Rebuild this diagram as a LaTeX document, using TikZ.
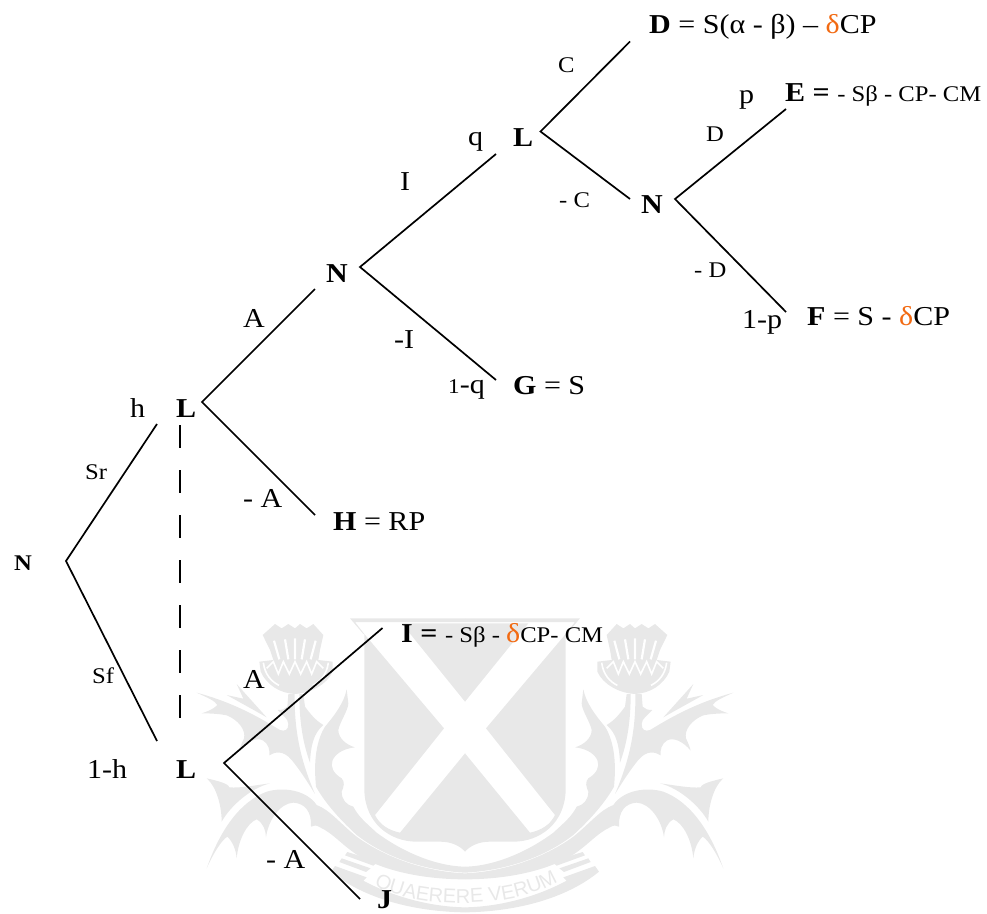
\documentclass[tikz,border=0pt]{standalone}
\usepackage{fontspec}
\setmainfont[FakeStretch=1.1]{Liberation Serif}
\newfontfamily\crestfont{Liberation Sans}
\usetikzlibrary{decorations.text}
\definecolor{crest}{HTML}{E8E8E8}
\definecolor{deltaor}{HTML}{F26A12}
\newcommand{\bigf}{\fontsize{27.3}{31}\selectfont}
\newcommand{\smf}{\fontsize{22.4}{26}\selectfont}
\newcommand{\dlt}{\textcolor{deltaor}{δ}}
\newcommand{\halfcrest}{%
  % thistle head
  \fill[crest] (440,75) -- (470,42) -- (490,55) -- (510,42) -- (525,55) -- (545,42) -- (565,55) -- (585,42) -- (622,75) -- (600,120) -- (590,150) -- (632,155) -- (628,185) .. controls (610,225) and (570,250) .. (525,252) .. controls (480,250) and (430,225) .. (412,185) -- (412,155) -- (455,150) -- (450,120) -- cycle;
  \draw[white,line width=2.2pt] (463,92) -- (478,148) (495,88) -- (505,148) (525,85) -- (525,148) (555,88) -- (545,148) (588,92) -- (572,148);
  \draw[white,line width=1.6pt] (440,175) -- (460,155) -- (475,192) -- (490,155) -- (508,192) -- (525,155) -- (542,192) -- (560,155) -- (575,192) -- (590,155) -- (610,175);
  \draw[white,line width=1.6pt] (425,158) .. controls (430,195) and (450,215) .. (472,226) (620,158) .. controls (615,195) and (595,215) .. (573,226);
  % stalk, inner strip
  \fill[crest] (500,252) -- (512,252) .. controls (512,320) and (505,390) .. (480,458) .. controls (478,410) and (470,370) .. (440,345) .. controls (465,330) and (480,310) .. (495,290) -- cycle;
  % stalk and upper leaf
  \fill[crest] (526,252) -- (545,252) -- (548,290) .. controls (555,298) and (565,300) .. (577,300) .. controls (565,315) and (545,325) .. (545,342) .. controls (545,360) and (555,365) .. (570,360) .. controls (620,330) and (700,280) .. (820,248) .. controls (790,262) and (765,272) .. (758,285) .. controls (770,298) and (790,305) .. (805,310) .. controls (775,310) and (750,312) .. (730,316) .. controls (695,330) and (672,360) .. (678,385) .. controls (685,400) and (690,412) .. (692,422) .. controls (670,395) and (640,380) .. (620,392) .. controls (605,402) and (600,420) .. (602,436) .. controls (585,425) and (560,420) .. (535,450) .. controls (510,480) and (485,520) .. (465,552) .. controls (500,470) and (528,380) .. (526,252) -- cycle;
  \fill[crest] (610,322) -- (700,222) -- (680,266) -- (730,255) -- (640,305) -- cycle;
  % small leaf above the arc
  \fill[crest] (600,520) .. controls (640,525) and (690,535) .. (722,532) .. controls (725,520) and (760,512) .. (790,505) .. controls (760,530) and (745,590) .. (745,635) .. controls (720,590) and (660,535) .. (600,520) -- cycle;
  % lower leaf and band to the ribbon
  \fill[crest] (15,790) .. controls (130,785) and (250,745) .. (340,680) .. controls (390,640) and (420,600) .. (460,585) .. controls (490,540) and (560,530) .. (610,545) .. controls (690,575) and (750,660) .. (790,775) .. controls (770,730) and (745,690) .. (728,680) .. controls (712,695) and (702,720) .. (700,745) .. controls (695,690) and (670,640) .. (640,628) .. controls (620,640) and (613,660) .. (612,682) .. controls (605,630) and (570,580) .. (530,578) .. controls (495,580) and (475,605) .. (477,650) .. controls (470,645) and (460,645) .. (450,652) .. controls (410,670) and (380,710) .. (330,740) .. controls (240,790) and (120,808) .. (15,808) -- cycle;
  % big leaf beside the shield, running into the U band
  \fill[crest] (370,238) .. controls (378,280) and (410,320) .. (435,350) .. controls (460,390) and (470,450) .. (462,530) .. controls (440,570) and (400,620) .. (340,675) .. controls (250,745) and (130,782) .. (15,788) -- (15,770) .. controls (110,768) and (210,720) .. (280,668) .. controls (310,640) and (335,620) .. (350,590) .. controls (370,585) and (385,570) .. (385,545) .. controls (378,530) and (375,515) .. (385,505) .. controls (410,490) and (420,470) .. (412,450) .. controls (400,425) and (370,415) .. (345,412) .. controls (370,405) and (395,385) .. (395,360) .. controls (390,335) and (365,300) .. (365,280) -- cycle;
  % ribbon strips
  \fill[crest] (275,755) -- (368,726) -- (375,736) -- (290,767) -- cycle;
  \fill[crest] (298,775) -- (385,745) -- (392,756) -- (312,786) -- cycle;
  \fill[crest] (310,802) -- (405,768) -- (417,785) .. controls (320,865) and (170,905) .. (15,907) -- (15,892) .. controls (130,890) and (240,855) .. (320,812) -- cycle;
  % shield half
  \fill[crest] (15,25) -- (360,25) -- (320,72) -- (317,72) -- (345,36) -- (15,36) -- cycle;
  \fill[crest] (15,275) -- (205,40) -- (15,40) -- cycle;
  \fill[crest] (15,430) -- (210,668) .. controls (245,660) and (270,645) .. (285,615) -- (78,355) -- (317,72) -- (317,540) .. controls (315,640) and (240,695) .. (160,695) -- (90,695) .. controls (55,695) and (30,708) .. (15,725) -- cycle;
}
\tikzset{
  edge/.style={line width=1.7pt,black},
  big/.style={inner sep=0pt,anchor=base west,font=\bigf},
  sml/.style={inner sep=0pt,anchor=base west,font=\smf},
}
\begin{document}
\begin{tikzpicture}[x=1pt,y=-1pt]
\useasboundingbox (0,0) rectangle (987,913);
\begin{scope}
\clip (0,0) rectangle (987,913);
\begin{scope}[shift={(460,610)},x=0.33333pt,y=-0.33333pt]\halfcrest\end{scope}
\begin{scope}[shift={(470,610)},x=-0.33333pt,y=-0.33333pt]\halfcrest\end{scope}
\path[postaction={decorate},decoration={text along path,text align=center,text={|\crestfont\fontsize{20}{24}\selectfont\color{crest}|QUAERERE VERUM}}]
  (372,884) .. controls (415,910) and (515,910) .. (560,880);
\end{scope}
% branch points and free ends
\coordinate (n0) at (66,561);
\coordinate (l1top) at (157,424);
\coordinate (l1bot) at (157,741);
\coordinate (dashtop) at (180,425);
\coordinate (dashbot) at (180,719);
\coordinate (l1) at (202,402);
\coordinate (n1end) at (315,289);
\coordinate (hend) at (315,515);
\coordinate (n1) at (360,267);
\coordinate (l2end) at (496,154);
\coordinate (gend) at (496,380);
\coordinate (l2) at (540.5,131.5);
\coordinate (dend) at (630,41.5);
\coordinate (n2end) at (630,199);
\coordinate (n2) at (675,199);
\coordinate (eend) at (786,109);
\coordinate (fend) at (786,312);
\coordinate (l3) at (224,763);
\coordinate (iend) at (382.5,628);
\coordinate (jend) at (360,899);
\draw[edge] (l1top) -- (n0) -- (l1bot);
\draw[edge] (n1end) -- (l1) -- (hend);
\draw[edge] (l2end) -- (n1) -- (gend);
\draw[edge] (dend) -- (l2) -- (n2end);
\draw[edge] (eend) -- (n2) -- (fend);
\draw[edge] (iend) -- (l3) -- (jend);
\draw[edge,line width=1.5pt,dash pattern=on 23pt off 22pt] (dashtop) -- (dashbot);
% labels
\node[sml] (tN0) at (14,570) {\textbf{N}};
\node[big] (tL1) at (176,417) {\textbf{L}};
\node[big] (th) at (130,417) {h};
\node[sml] (tSr) at (85,479) {Sr};
\node[sml] (tSf) at (92,683) {Sf};
\node[big] (t1h) at (87,778) {1-h};
\node[big] (tL3) at (176,778) {\textbf{L}};
\node[big] (tA1) at (243,327) {A};
\node[big] (tmA1) at (243,507) {- A};
\node[big] (tH) at (333,530) {\textbf{H} = RP};
\node[big] (tN1) at (326,282) {\textbf{N}};
\node[big] (tI) at (400,190) {I};
\node[big] (tmI) at (394,348) {-I};
\node[big] (tq) at (468,145) {q};
\node[big] (t1q) at (448,393) {{\fontsize{21}{24}\selectfont 1}-q};
\node[big] (tG) at (513,394) {\textbf{G} = S};
\node[big] (tL2) at (513,146) {\textbf{L}};
\node[sml] (tC) at (558,72) {C};
\node[sml] (tmC) at (559,207) {- C};
\node[big] (tN2) at (641,213) {\textbf{N}};
\node[big] (tD) at (649,33) {\textbf{D} = S(α - β) – \dlt CP};
\node[sml] (tDl) at (706,141) {D};
\node[sml] (tmD) at (694,277) {- D};
\node[big] (tp) at (739,103) {p};
\node[big] (tE) at (785,101) {\textbf{E =} {\smf - Sβ - CP- CM}};
\node[big] (t1p) at (742,328) {1-p};
\node[big] (tF) at (807,325) {\textbf{F} = S - \dlt CP};
\node[big] (tA3) at (243,688) {A};
\node[big] (tmA3) at (266,868) {- A};
\node[big] (tIb) at (401,642) {\textbf{I =} {\smf - Sβ - {\bigf\dlt}CP- CM}};
\node[big] (tJ) at (377,908) {\textbf{J}};
\end{tikzpicture}
\end{document}
